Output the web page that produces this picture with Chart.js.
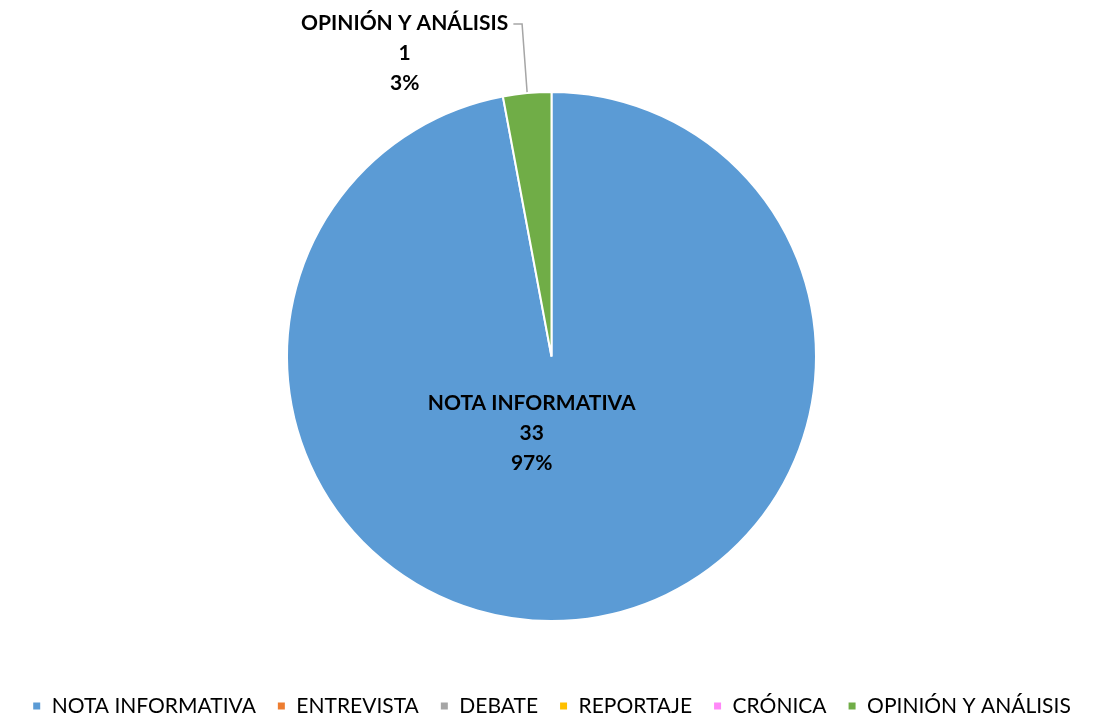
<!DOCTYPE html>
<html>
<head>
<meta charset="utf-8">
<script src="https://cdn.jsdelivr.net/npm/chart.js@4"></script>
<style>
  html, body { margin: 0; padding: 0; background: #fff; }
  #wrap { width: 1097px; height: 716px; }
</style>
</head>
<body>
<div id="wrap"><canvas id="pieChart" width="1097" height="716"></canvas></div>
<script>
const categories = ['NOTA INFORMATIVA', 'ENTREVISTA', 'DEBATE', 'REPORTAJE', 'CRÓNICA', 'OPINIÓN Y ANÁLISIS'];
const counts = [33, 0, 0, 0, 0, 1];
const sliceColors = ['#5B9BD5', '#ED7D31', '#A5A5A5', '#FFC000', '#FF88F8', '#70AD47'];

const FONT = 'Lato, "Liberation Sans", sans-serif';

// labels placed like the Excel original (offsets are fractions of the radius)
const labelSpots = {
    0: { dx: -0.075, dy: 0.29, leader: false },
    5: { dx: -0.555, dy: -1.147, leader: true }
};

const pieLabels = {
    id: 'pieLabels',
    afterDatasetsDraw(chart) {
        const ctx = chart.ctx;
        const meta = chart.getDatasetMeta(0);
        const total = counts.reduce((a, b) => a + b, 0);
        ctx.save();
        ctx.font = 'bold 21px ' + FONT;
        ctx.fillStyle = '#000';
        ctx.textAlign = 'center';
        ctx.textBaseline = 'middle';
        Object.keys(labelSpots).forEach(k => {
            const i = +k;
            const arc = meta.data[i];
            const r = arc.outerRadius;
            const spot = labelSpots[i];
            const x = arc.x + spot.dx * r;
            const y = arc.y + spot.dy * r;
            const lines = [categories[i], String(counts[i]), Math.round(counts[i] / total * 100) + '%'];
            lines.forEach((t, j) => ctx.fillText(t, x, y + (j - 1) * 30));
            if (spot.leader) {
                const mid = (arc.startAngle + arc.endAngle) / 2;
                const ex = arc.x + Math.cos(mid) * r;
                const ey = arc.y + Math.sin(mid) * r;
                const w = ctx.measureText(lines[0]).width;
                const sx = x + w / 2 + 5;
                const sy = y - 30 + 1;
                ctx.strokeStyle = '#A6A6A6';
                ctx.lineWidth = 1.5;
                ctx.beginPath();
                ctx.moveTo(sx, sy);
                ctx.lineTo(ex - 5, sy);
                ctx.lineTo(ex, ey - 1);
                ctx.stroke();
            }
        });
        ctx.restore();
    }
};

new Chart(document.getElementById('pieChart'), {
    type: 'pie',
    data: {
        labels: categories,
        datasets: [{
            data: counts,
            backgroundColor: sliceColors,
            borderColor: '#fff',
            borderWidth: 2
        }]
    },
    options: {
        responsive: false,
        animation: false,
        layout: { padding: { top: 91, left: 6, bottom: 0 } },
        plugins: {
            legend: {
                position: 'bottom',
                maxHeight: 94,
                title: { display: true, text: '', padding: { top: 38, bottom: 0 } },
                labels: {
                    font: { family: FONT, size: 21 },
                    color: '#000',
                    boxWidth: 9,
                    boxHeight: 9,
                    padding: 21
                }
            },
            tooltip: { enabled: false }
        }
    },
    plugins: [pieLabels]
});
</script>
</body>
</html>
